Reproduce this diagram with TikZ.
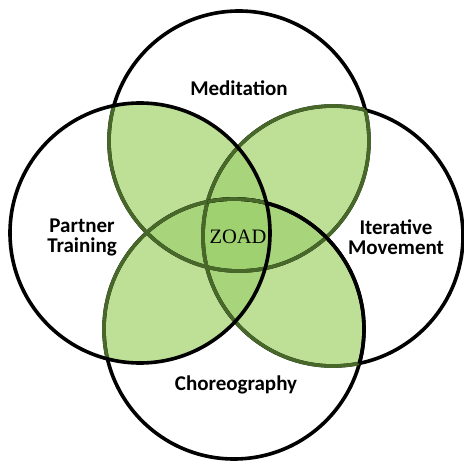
\documentclass[tikz,border=0pt]{standalone}
\usepackage{fontspec}
\setmainfont{Liberation Serif}
\newfontfamily\labelfont{Carlito}
\definecolor{petal}{RGB}{189,223,150}
\definecolor{triple}{RGB}{168,213,124}
\definecolor{quad}{RGB}{160,209,112}
\definecolor{darkline}{RGB}{72,104,42}
\begin{document}
\begin{tikzpicture}[x=1pt,y=-1pt,line width=3.6pt,
  lbl/.style={font=\labelfont\bfseries\fontsize{21}{20}\selectfont,align=center,inner sep=0pt},
  ctr/.style={font=\fontsize{20.5}{20}\selectfont,inner sep=0pt}]
\useasboundingbox (0,0) rectangle (464,463);
\coordinate (T) at (239,141);
\coordinate (L) at (140,233);
\coordinate (R) at (333,236);
\coordinate (B) at (234,329);
\def\cT{(T) circle[radius=130pt]}
\def\cL{(L) circle[radius=130pt]}
\def\cR{(R) circle[radius=130pt]}
\def\cB{(B) circle[radius=130pt]}
% fills: two-circle overlaps
\begin{scope}\clip \cT; \fill[petal] \cL; \fill[petal] \cR; \end{scope}
\begin{scope}\clip \cB; \fill[petal] \cL; \fill[petal] \cR; \end{scope}
% three-circle overlaps
\begin{scope}\clip \cL; \clip \cR; \fill[triple] \cT; \fill[triple] \cB; \end{scope}
\begin{scope}\clip \cT; \clip \cB; \fill[triple] \cL; \fill[triple] \cR; \end{scope}
% four-circle overlap
\begin{scope}\clip \cT; \clip \cB; \clip \cL; \fill[quad] \cR; \end{scope}
% outlines
\draw \cT; \draw \cR; \draw \cB;
\begin{scope}\clip \cL; \draw[darkline] \cT; \draw[darkline] \cB; \end{scope}
\begin{scope}\clip \cR; \draw[darkline] \cT; \end{scope}
\begin{scope}\clip \cT; \draw[darkline] \cR; \end{scope}
\begin{scope}\clip \cB; \draw[darkline] \cR; \end{scope}
\begin{scope}\clip \cR; \draw \cB; \clip \cL; \draw[darkline] \cB; \end{scope}
\draw \cL;
% labels
\node[lbl] (med) at (239,88) {Meditation};
\node[lbl] (pt) at (82,237) {Partner\\Training};
\node[lbl] (im) at (396,237) {Iterative\\Movement};
\node[lbl] (ch) at (236,385) {Choreography};
\node[ctr] (z) at (238,237) {ZOAD};
\end{tikzpicture}
\end{document}
